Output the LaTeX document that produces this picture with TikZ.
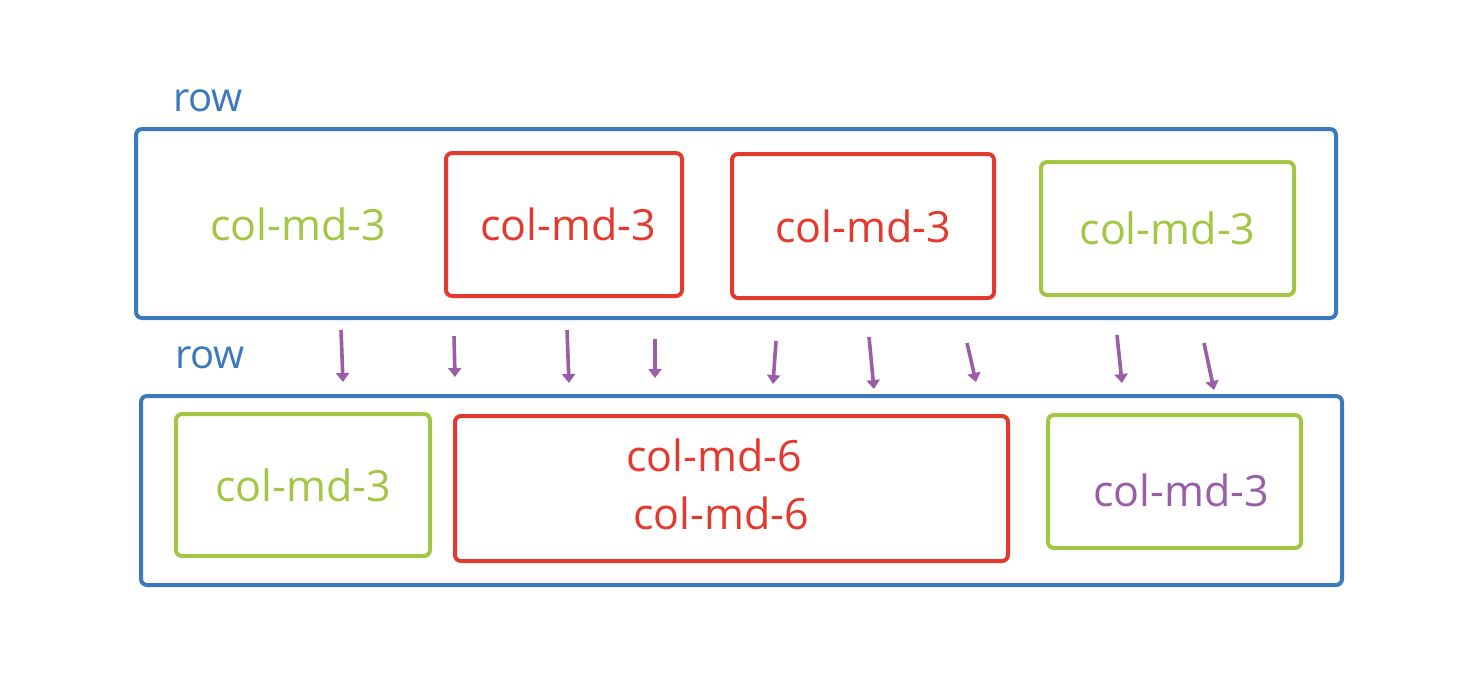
\documentclass[tikz,border=0pt]{standalone}
\usepackage{fontspec}
\setmainfont{Open Sans}
\usepackage{tikz}
\usepackage{xcolor}
\usetikzlibrary{arrows.meta,positioning}
\definecolor{rowblue}{HTML}{3B78BE}
\definecolor{colred}{HTML}{E3392E}
\definecolor{colgreen}{HTML}{A3C644}
\definecolor{colpurple}{HTML}{9A5EA8}
\tikzset{
  rowbox/.style={draw=rowblue,line width=2pt,rounded corners=3pt},
  redcol/.style={draw=colred,line width=2pt,rounded corners=3pt,
                 text=colred,font=\fontsize{21.5}{26}\selectfont},
  greencol/.style={draw=colgreen,line width=2pt,rounded corners=3pt,
                   text=colgreen,font=\fontsize{21.5}{26}\selectfont},
  rowlabel/.style={text=rowblue,font=\fontsize{20}{24}\selectfont},
  coltext/.style={font=\fontsize{21.5}{26}\selectfont},
  pusharr/.style={-{Triangle[length=4.5pt,width=6.5pt]},line width=1.8pt,
                  draw=colpurple}
}

\begin{document}
\begin{tikzpicture}[x=0.5pt,y=-0.5pt]
    \path[use as bounding box] (0,0) rectangle (1468,692);

    % first row
    \node[rowlabel] (row1) at (208,101) {row};
    \node[rowbox,minimum width=600pt,minimum height=94.5pt] (r1) at (736,223.5) {};
    \node[coltext,text=colgreen] (c11) at (298,224) {col-md-3};
    \node[redcol,minimum width=118pt,minimum height=71.5pt] (c12) at (564,224.5)
      {\hspace*{4pt}col-md-3};
    \node[redcol,minimum width=131pt,minimum height=72pt] (c13) at (863,226)
      {col-md-3};
    \node[greencol,minimum width=126.5pt,minimum height=66.5pt] (c14) at (1167.5,228.5)
      {col-md-3};

    % second row
    \node[rowlabel] (row2) at (210,358) {row};
    \node[rowbox,minimum width=600.5pt,minimum height=94.5pt] (r2) at (741.5,490.5) {};
    \node[greencol,minimum width=127pt,minimum height=71pt] (c21) at (303,485)
      {col-md-3};
    \node[draw=colred,line width=2pt,rounded corners=3pt,
          minimum width=276.5pt,minimum height=72.5pt] (c22) at (731.5,488.5) {};
    \node[coltext,text=colred,align=center] (c22t) at (714,484)
      {col-md-6\\[3pt]\hspace*{7pt}col-md-6};
    \node[draw=colgreen,line width=2pt,rounded corners=3pt,
          minimum width=126.5pt,minimum height=66.5pt] (c23) at (1174.5,481.5) {};
    \node[coltext,text=colpurple] (c23t) at (1181,490) {col-md-3};

    % arrows between the rows
    \foreach \i/\xa/\ya/\xb/\yb in {1/341/330/343/382, 2/454/336/455/377,
        3/567/330/569/383, 4/655/339/655/378, 5/776/341/773/384,
        6/869/337/874/389, 7/967/343/976/382, 8/1117/335/1122/383,
        9/1204/343/1214/390}{
      \coordinate (s\i) at (\xa,\ya);
      \coordinate (e\i) at (\xb,\yb);
      \draw[pusharr] (s\i) -- (e\i);
    }
\end{tikzpicture}
\end{document}
